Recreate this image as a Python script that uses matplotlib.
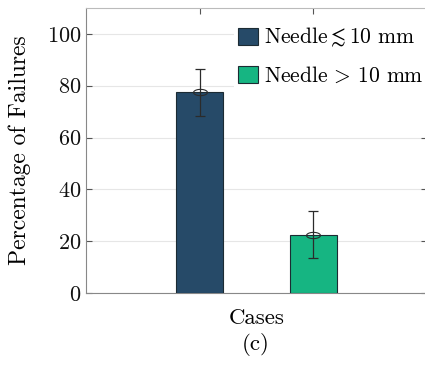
import numpy as np
import matplotlib
matplotlib.use('Agg')
import matplotlib.pyplot as plt
from matplotlib.path import Path

plt.rcParams['font.family'] = ['cmr10', 'DejaVu Serif']
plt.rcParams['mathtext.fontset'] = 'cm'
plt.rcParams['axes.formatter.use_mathtext'] = True

# Failure percentages per needle group, with error half-widths
groups = [r'Needle$\lesssim$10 mm', r'Needle$\,>\,$10 mm']
failures = [77.5, 22.5]
errors = [9.0, 9.0]
colors = ['#264a68', '#16b582']

fig = plt.figure(figsize=(4.25, 3.65), dpi=100)
ax = fig.add_axes([86/425, 72/365, 341/425, 285/365])

xpos = np.arange(1, len(failures) + 1)
bars = ax.bar(xpos, failures, width=0.41, color=colors,
              edgecolor='#1c2b33', linewidth=0.8, label=groups, zorder=3)

# flattened ring at each bar top
t = np.linspace(0, 2*np.pi, 60)
ring = Path(np.column_stack([np.cos(t), 0.45*np.sin(t)]))
ax.errorbar(xpos, failures, yerr=errors, fmt='none', ecolor='#2b2b2b',
            elinewidth=0.9, capsize=3.6, capthick=0.9, zorder=4)
ax.plot(xpos, failures, linestyle='none', marker=ring, markersize=10,
        mfc='none', mec='#2b2b2b', mew=0.8, zorder=5)

ax.set_xlim(0, 3)
ax.set_ylim(0, 110)
ax.set_yticks([0, 20, 40, 60, 80, 100])
ax.set_xticks(xpos)
ax.set_xticklabels([])
ax.tick_params(axis='both', direction='in', length=4, width=0.8,
               colors='#555555', labelcolor='#111111', labelsize=16,
               top=True, right=True)
ax.yaxis.grid(True, color='#e6e6e6', linewidth=0.8, zorder=0)
ax.set_axisbelow(True)
for side in ['left', 'bottom']:
    ax.spines[side].set_color('#888888')
for side in ['top', 'right']:
    ax.spines[side].set_color('#bbbbbb')

ax.set_ylabel('Percentage of Failures', fontsize=17, labelpad=11)
ax.set_xlabel('Cases', fontsize=16.5, labelpad=8)
fig.text(256/425, 1 - 345/365, '(c)', fontsize=16.5, ha='center', va='center')

leg = ax.legend(handles=list(bars), labels=groups, loc='upper left',
                bbox_to_anchor=(234/425, 1 - 22/365), bbox_transform=fig.transFigure,
                fontsize=15.5, frameon=True, facecolor='white', edgecolor='none',
                framealpha=1, fancybox=False, borderpad=0.2, labelspacing=0.75,
                handlelength=0.9, handleheight=0.8, handletextpad=0.3,
                borderaxespad=0)

fig.savefig('out.png', dpi=100)
